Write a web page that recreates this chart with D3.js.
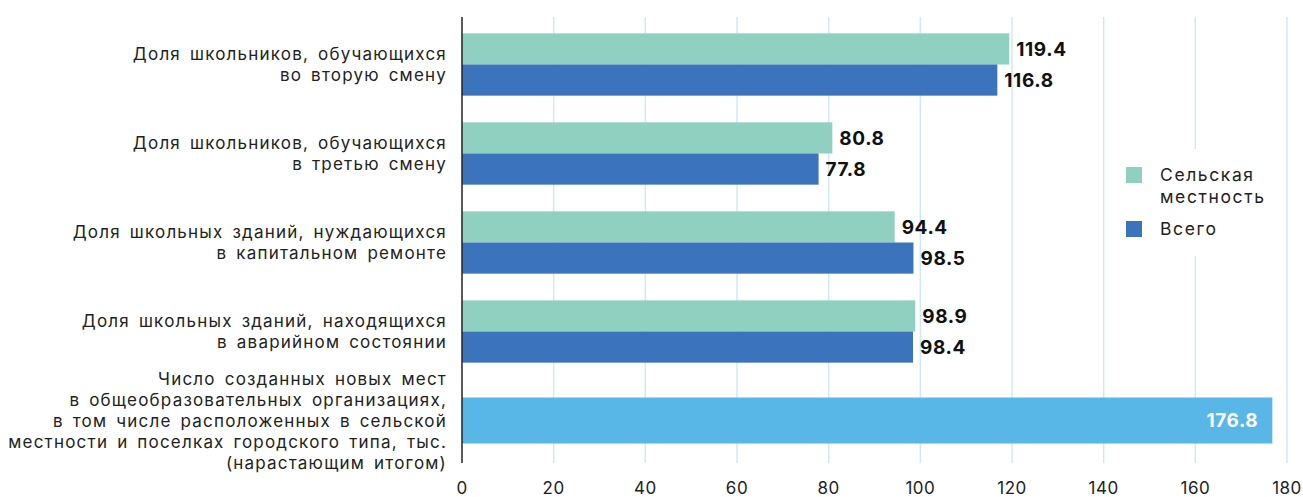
<!DOCTYPE html>
<html>
<head>
<meta charset="utf-8">
<script src="https://cdn.jsdelivr.net/npm/d3@7"></script>
<style>
  html, body { margin: 0; padding: 0; background: #fff; }
  svg { display: block; font-family: Inter, "Noto Sans", sans-serif; }
</style>
</head>
<body>
<svg id="chart" width="1303" height="497"></svg>
<script>
// Category labels (each entry is a list of lines)
const categories = [
  ["Доля школьников, обучающихся", "во вторую смену"],
  ["Доля школьников, обучающихся", "в третью смену"],
  ["Доля школьных зданий, нуждающихся", "в капитальном ремонте"],
  ["Доля школьных зданий, находящихся", "в аварийном состоянии"],
  ["Число созданных новых мест", "в общеобразовательных организациях,", "в том числе расположенных в сельской", "местности и поселках городского типа, тыс.", "(нарастающим итогом)"]
];
const seriesNames = ["Сельская местность", "Всего"];
const ruralValues = [119.4, 80.8, 94.4, 98.9];
const totalValues = [116.8, 77.8, 98.5, 98.4];
const newPlacesValue = 176.8;
const xTicks = [0, 20, 40, 60, 80, 100, 120, 140, 160, 180];

const colors = { rural: "#8fd0c0", total: "#3b74bc", single: "#58b7e7", grid: "#cfeaf7", text: "#222" };

const svg = d3.select("#chart");
const x = d3.scaleLinear().domain([0, 180]).range([462, 1287]);
const y = d3.scaleBand().domain(d3.range(categories.length)).range([20, 465]).paddingInner(0).paddingOuter(0);
const pairPad = 0.3;
const sub = d3.scaleBand().domain(["rural", "total"])
  .range([y.step() * pairPad / 2, y.step() * (1 - pairPad / 2)]);

// Gridlines
svg.append("g").selectAll("line").data(xTicks.slice(1)).join("line")
  .attr("x1", d => x(d)).attr("x2", d => x(d))
  .attr("y1", 17).attr("y2", 463)
  .attr("stroke", colors.grid).attr("stroke-width", 1.5);

// Paired bars
const groups = svg.append("g").selectAll("g")
  .data(ruralValues.map((v, i) => ({ i, rural: v, total: totalValues[i] })))
  .join("g").attr("transform", d => `translate(0,${y(d.i)})`);

["rural", "total"].forEach(k => {
  groups.append("rect")
    .attr("x", x(0)).attr("y", sub(k))
    .attr("width", d => x(d[k]) - x(0)).attr("height", sub.bandwidth())
    .attr("fill", colors[k]);
  groups.append("text")
    .attr("x", d => x(d[k]) + 7).attr("y", sub(k) + sub.bandwidth() / 2)
    .attr("dy", "0.36em")
    .attr("font-size", 19).attr("font-weight", 700).attr("letter-spacing", 0.6).attr("fill", "#111")
    .text(d => d[k].toFixed(1));
});

// Single bar for new places
const lastIdx = categories.length - 1;
const singleH = 46;
const singleY = y(lastIdx) + y.step() / 2 - singleH / 2;
svg.append("rect")
  .attr("x", x(0)).attr("y", singleY)
  .attr("width", x(newPlacesValue) - x(0)).attr("height", singleH)
  .attr("fill", colors.single);
svg.append("text")
  .attr("x", x(newPlacesValue) - 14).attr("y", singleY + singleH / 2)
  .attr("dy", "0.36em").attr("text-anchor", "end")
  .attr("font-size", 19).attr("font-weight", 700).attr("letter-spacing", 0.6).attr("fill", "#fff")
  .text(newPlacesValue.toFixed(1));

// Category labels
const lineH = 21;
svg.append("g").selectAll("text").data(categories).join("text")
  .attr("text-anchor", "end").attr("font-size", 17)
  .attr("letter-spacing", 1.2).attr("word-spacing", 3).attr("fill", colors.text)
  .each(function (lines, i) {
    const cy = y(i) + y.step() / 2;
    const y0 = cy - (lines.length - 1) * lineH / 2;
    d3.select(this).selectAll("tspan").data(lines).join("tspan")
      .attr("x", 447).attr("y", (d, j) => y0 + j * lineH).attr("dy", "0.36em")
      .text(d => d);
  });

// Vertical axis line
svg.append("line")
  .attr("x1", x(0)).attr("x2", x(0)).attr("y1", 17).attr("y2", 463)
  .attr("stroke", "#222").attr("stroke-width", 1.5);

// X tick labels
svg.append("g").selectAll("text").data(xTicks).join("text")
  .attr("x", d => x(d)).attr("y", 488).attr("dy", "0.36em")
  .attr("text-anchor", "middle").attr("font-size", 17).attr("letter-spacing", 0.5).attr("fill", colors.text)
  .text(d => d);

// Legend
const legend = svg.append("g");
legend.append("rect").attr("x", 1110).attr("y", 149).attr("width", 172).attr("height", 107).attr("fill", "#fff");
const legendItems = [
  { color: colors.rural, lines: ["Сельская", "местность"], y: 175 },
  { color: colors.total, lines: ["Всего"], y: 229 }
];
legendItems.forEach(it => {
  legend.append("rect").attr("x", 1126).attr("y", it.y - 8).attr("width", 16).attr("height", 16).attr("fill", it.color);
  const t = legend.append("text").attr("font-size", 17.5).attr("letter-spacing", 1.6).attr("fill", colors.text);
  t.selectAll("tspan").data(it.lines).join("tspan")
    .attr("x", 1160).attr("y", (d, j) => it.y + j * 22).attr("dy", "0.36em").text(d => d);
});
</script>
</body>
</html>
